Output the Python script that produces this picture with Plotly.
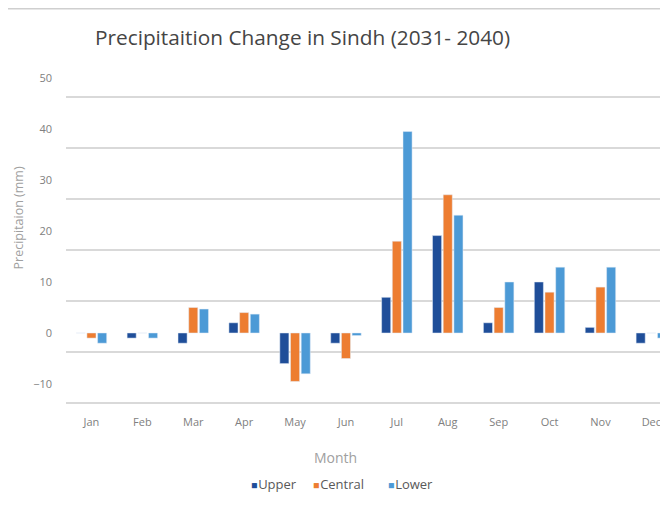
import plotly.graph_objects as go

months = ["Jan", "Feb", "Mar", "Apr", "May", "Jun", "Jul", "Aug", "Sep", "Oct", "Nov", "Dec"]
upper = [0, -1.0, -2.0, 2.0, -6.0, -2.0, 7.0, 19.1, 2.0, 10.0, 1.1, -2.0]
central = [-1.0, 0, 5.0, 4.0, -9.5, -5.0, 18.0, 27.1, 5.0, 8.0, 9.0, 0]
lower = [-2.0, -1.0, 4.7, 3.7, -8.0, -0.5, 39.5, 23.1, 10.0, 12.9, 12.9, -1.0]
y_ticks = [-10, 0, 10, 20, 30, 40, 50]
series_names = ["Upper", "Central", "Lower"]
series_colors = ["#1F4E99", "#ED7D31", "#4C9AD6"]

FONT = "Open Sans"
# plot area in figure pixels
L, T, B = 58, 62, 105
W, H = 668, 507
PW, PH = W - L, H - T - B


def px(fx):
    return (fx - L) / PW


def py(fy):
    return (H - B - fy) / PH


fig = go.Figure()
for name, vals, col in zip(series_names, [upper, central, lower], series_colors):
    fig.add_trace(go.Bar(name=name, x=months, y=vals, marker_color=col))
# helper trace so the offset gridline axis is drawn
fig.add_trace(go.Scatter(x=[months[0]], y=[None], yaxis="y2", showlegend=False,
                         hoverinfo="skip", mode="markers"))

legend_x = [241, 303, 378]
annotations = [
    dict(text="Precipitaion (mm)", textangle=-90, x=px(9.5), y=py(210), xref="paper", yref="paper",
         xanchor="center", yanchor="middle", showarrow=False,
         font=dict(family=FONT, size=12.5, color="#a0a0a0")),
    dict(text="Month", x=px(327), y=py(449), xref="paper", yref="paper",
         showarrow=False, font=dict(family=FONT, size=14, color="#a0a0a0"),
         xanchor="center", yanchor="middle"),
]
for name, col, lx in zip(series_names, series_colors, legend_x):
    annotations.append(dict(
        text=f"<span style='color:{col};font-size:10.5px'>■</span><span style='font-size:3px'> </span>{name}",
        x=px(lx), y=py(476), xref="paper", yref="paper", xanchor="left", yanchor="middle",
        showarrow=False, font=dict(family=FONT, size=13, color="#595959")))

fig.update_layout(
    width=W, height=H,
    margin=dict(l=L, r=0, t=T, b=B),
    paper_bgcolor="white", plot_bgcolor="white",
    barmode="group", bargap=0.37, bargroupgap=0.15,
    font=dict(family=FONT, color="#888888"),
    showlegend=False,
    title=dict(text="Precipitaition Change in Sindh (2031- 2040)",
               x=87 / W, xref="container", xanchor="left",
               y=1 - 30 / H, yref="container", yanchor="middle",
               font=dict(family=FONT, size=20.8, color="#454545")),
    xaxis=dict(range=[-0.5, -0.5 + PW / 50.9], showgrid=False, zeroline=False, showline=False,
               tickfont=dict(size=11, color="#808080"), ticklabelstandoff=4),
    yaxis=dict(range=[-15.1, 51.57], tickvals=y_ticks, showgrid=False, zeroline=False,
               showline=False, tickfont=dict(size=11, color="#808080"),
               ticklabelstandoff=13),
    yaxis2=dict(range=[-11.4, 55.27], overlaying="y", side="left", tickvals=y_ticks,
                showticklabels=False, showgrid=True, gridcolor="#d9d9d9", gridwidth=2,
                zeroline=False, showline=False),
    annotations=annotations,
    shapes=[dict(type="line", xref="paper", yref="paper", x0=px(0), x1=1.0,
                 y0=py(0.5), y1=py(0.5), line=dict(color="#cfcfcf", width=2))],
)

fig.write_html("out.html")
